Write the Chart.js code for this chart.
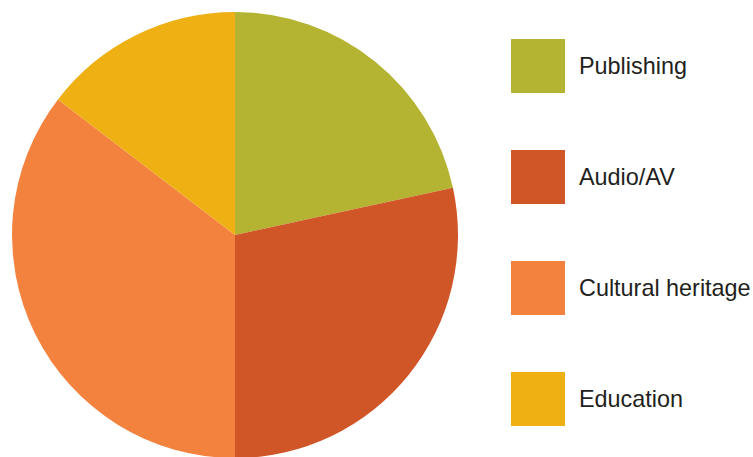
<!DOCTYPE html>
<html>
<head>
<meta charset="utf-8">
<script src="https://cdn.jsdelivr.net/npm/chart.js@4/dist/chart.umd.min.js"></script>
<style>
  html, body { margin: 0; padding: 0; background: #fff; overflow: hidden; }
  body { width: 753px; height: 457px; position: relative; }
  #wrap { position: absolute; left: 0; top: 0; width: 470px; height: 470px; }
  #leyenda { position: absolute; left: 511px; top: 39px; font-family: "Liberation Sans", Arial, sans-serif; font-size: 23.4px; color: #231f20; }
  .item { display: flex; align-items: center; height: 54px; margin-bottom: 57px; }
  .caja { width: 54px; height: 54px; margin-right: 14px; flex: none; }
  .texto { white-space: nowrap; }
</style>
</head>
<body>
<div id="wrap"><canvas id="grafico"></canvas></div>
<div id="leyenda"></div>
<script>
const etiquetas = ["Publishing", "Audio/AV", "Cultural heritage", "Education"];
const valores = [21.6, 28.4, 35.4, 14.6];
const colores = ["#b5b432", "#d05627", "#f3823f", "#efb014"];

new Chart(document.getElementById("grafico"), {
  type: 'pie',
  data: {
    labels: etiquetas,
    datasets: [{
      data: valores,
      backgroundColor: colores,
      borderWidth: 0
    }]
  },
  options: {
    responsive: true,
    maintainAspectRatio: false,
    animation: false,
    layout: { padding: 12 },
    plugins: {
      legend: { display: false },
      tooltip: { enabled: false }
    }
  }
});

const leyenda = document.getElementById("leyenda");
etiquetas.forEach((e, i) => {
  const item = document.createElement("div");
  item.className = "item";
  const caja = document.createElement("div");
  caja.className = "caja";
  caja.style.background = colores[i];
  const texto = document.createElement("span");
  texto.className = "texto";
  texto.textContent = e;
  item.appendChild(caja);
  item.appendChild(texto);
  leyenda.appendChild(item);
});
</script>
</body>
</html>
